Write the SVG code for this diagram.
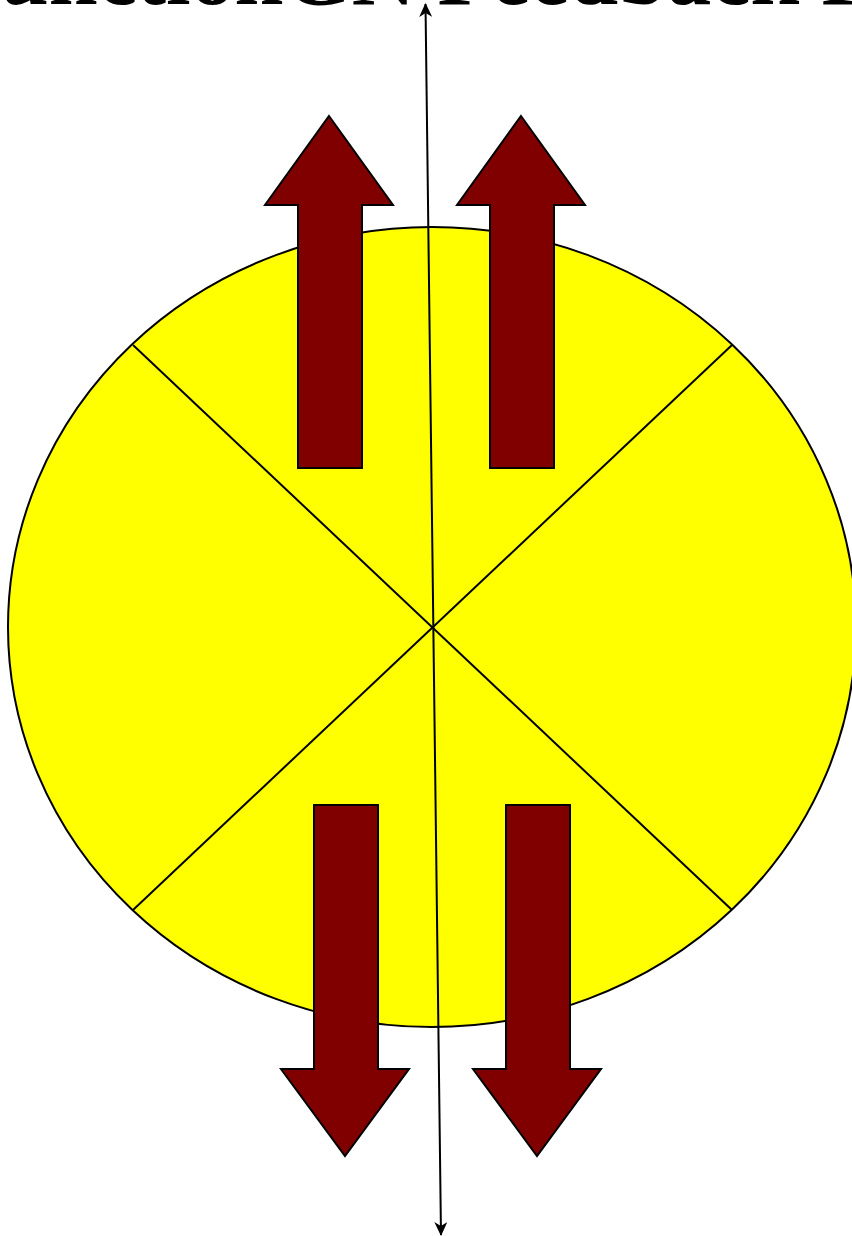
<svg xmlns="http://www.w3.org/2000/svg" width="852" height="1236" viewBox="0 0 852 1236">
<defs>
<style>
.blk{stroke:#000;stroke-width:2;fill:none}
.arr{fill:#800000;stroke:#000;stroke-width:2;stroke-linejoin:miter}
.ttl{font-family:"Liberation Serif","DejaVu Serif",serif;font-size:88px;font-weight:bold;fill:#000}
</style>
<marker id="ah" viewBox="0 0 14 13" refX="13" refY="6.5" markerWidth="14" markerHeight="13" orient="auto-start-reverse" markerUnits="userSpaceOnUse">
<path d="M0,0 L14,6.5 L0,13 L4,6.5 Z" fill="#000"/>
</marker>
</defs>
<rect width="852" height="1236" fill="#fff"/>
<g id="title"><text class="ttl" x="-54" y="4">FunctionGN Feedback F</text></g>
<g id="disc">
<ellipse cx="432" cy="627" rx="424" ry="400" fill="#ffff00" stroke="#000" stroke-width="2"/>
<line class="blk" x1="133" y1="345" x2="732" y2="910"/>
<line class="blk" x1="732" y1="345" x2="133" y2="910"/>
</g>
<g id="up-left"><polygon class="arr" points="329,116 393,205 362,205 362,468 298,468 298,205 265,205"/></g>
<g id="up-right"><polygon class="arr" points="521,116 585,205 554,205 554,468 490,468 490,205 457,205"/></g>
<g id="down-left"><polygon class="arr" points="314,805 378,805 378,1069 409,1069 345,1156 281,1069 314,1069"/></g>
<g id="down-right"><polygon class="arr" points="506,805 570,805 570,1069 601,1069 537,1156 473,1069 506,1069"/></g>
<g id="connectors">
<line x1="441" y1="1235" x2="425.5" y2="4" stroke="#000" stroke-width="2" marker-start="url(#ah)" marker-end="url(#ah)"/>
</g>
</svg>
